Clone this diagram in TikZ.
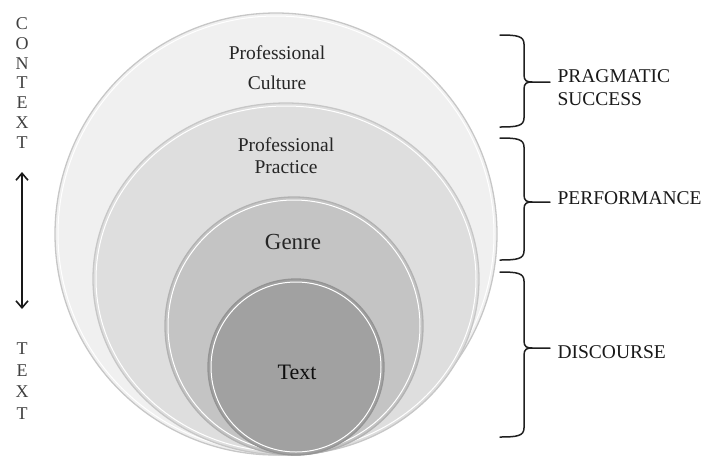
\documentclass[tikz,border=0pt]{standalone}
\usepackage{fontspec}
\setmainfont{Liberation Serif}
\usetikzlibrary{shapes.geometric, arrows.meta}
\begin{document}
\begin{tikzpicture}[x=1pt, y=-1pt,
	layer/.style={draw=black!22, line width=1.3pt, inner sep=0pt},
	shine/.style={draw=white, line width=1pt},
	lbl/.style={align=center, text=black!85, font=\fontsize{19.5}{22}\selectfont},
	side/.style={align=left, anchor=west, text=black!90, font=\fontsize{19.5}{23}\selectfont},
	axisletters/.style={align=center, text=black!75, font=\fontsize{18}{20}\selectfont},
	bracket/.style={line width=1.5pt, draw=black!88, line cap=round}]
	\useasboundingbox (0,0) rectangle (705,459);
	% Layers, from outside in:
	\node[layer, circle, fill=black!6, minimum size=442pt] (culture) at (276,234){};
	\draw[shine] (culture.center) circle[radius=218pt];
	\node[layer, ellipse, fill=black!13, minimum width=386pt, minimum height=352pt] (practice) at (286,279){};
	\draw[shine] (practice.center) ellipse[x radius=190pt, y radius=173pt];
	\node[layer, circle, draw=black!30, fill=black!23, minimum size=258pt] (genre) at (294,326){};
	\draw[shine] (genre.center) circle[radius=126pt];
	\node[layer, circle, draw=black!42, fill=black!37, minimum size=176pt] (text) at (296,367){};
	\draw[shine] (text.center) circle[radius=85pt];
	% Layer labels:
	\node[lbl, font=\fontsize{19.5}{30}\selectfont] (culturelbl) at (277,68){Professional\\Culture};
	\node[lbl] (practicelbl) at (286,156){Professional\\Practice};
	\node[lbl, font=\fontsize{23}{26}\selectfont] (genrelbl) at (293,242){Genre};
	\node[lbl, text=black!95, font=\fontsize{22}{26}\selectfont] (textlbl) at (297,372){Text};
	% Left axis:
	\node[axisletters, font=\fontsize{18}{19.8}\selectfont] (contextlbl) at (22,83){C\\O\\N\\T\\E\\X\\T};
	\node[axisletters, font=\fontsize{18}{21.7}\selectfont] (textaxislbl) at (22,381){T\\E\\X\\T};
	\coordinate (atop) at (22,172);
	\coordinate (abot) at (22,309);
	\draw[line width=1.6pt, black!90, {Straight Barb[length=7pt, width=12pt]}-{Straight Barb[length=7pt, width=12pt]}] (atop) -- (abot);
	% Brackets and their labels:
	\foreach \top/\mid/\bot/\name in {35/82/127/prag, 138/202/260/perf, 272/348/437/disc}{
		\coordinate (\name tip) at (550,\mid);
		\draw[bracket] (500,\top) .. controls (517,\top) and (524,\top+1) .. (524,\top+9)
			-- (524,\mid-7) .. controls (524,\mid-1) and (527,\mid) .. (532,\mid) -- (\name tip);
		\draw[bracket] (532,\mid) .. controls (527,\mid) and (524,\mid+1) .. (524,\mid+7)
			-- (524,\bot-9) .. controls (524,\bot-1) and (517,\bot) .. (500,\bot);
	}
	\node[side] (praglbl) at (554,88){PRAGMATIC\\SUCCESS};
	\node[side] (perflbl) at (554,198){PERFORMANCE};
	\node[side] (disclbl) at (554,352){DISCOURSE};
\end{tikzpicture}
\end{document}
